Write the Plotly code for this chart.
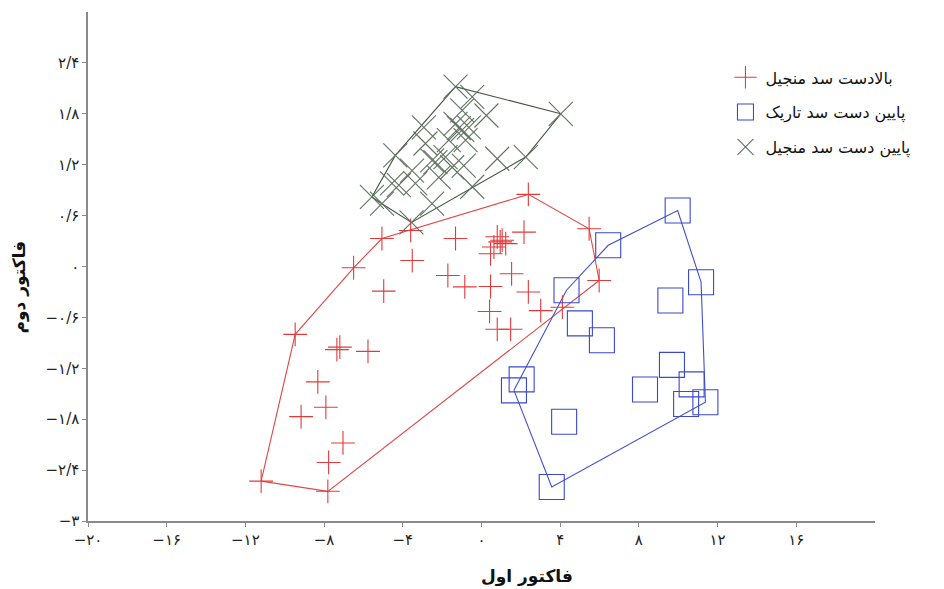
import plotly.graph_objects as go

# ---------------- data ----------------
red_name = "بالادست سد منجیل"
red_x = [2.38, 5.47, 5.98, 4.11, -5.06, -3.6, -3.52, -6.5, -9.47, -11.2, -7.81, -4.97,
         -7.35, -7.2, -5.77, -8.32, -7.91, -9.17, -7.04, -7.77, -1.32, -1.71, -0.85,
         0.8, 1.05, 1.23, 0.63, 0.46, 0.95, 2.16, 1.53, 0.46, 2.38, 3.01, 0.41, 0.80, 1.48]
red_y = [0.85, 0.445, -0.165, -0.48, 0.33, 0.425, 0.07, -0.015, -0.80, -2.53, -2.65, -0.29,
         -0.98, -0.95, -1.0, -1.36, -1.66, -1.77, -2.08, -2.31, 0.33, -0.106, -0.24,
         0.35, 0.31, 0.27, 0.23, 0.15, 0.29, 0.405, -0.086, -0.236, -0.30, -0.52, -0.53, -0.74, -0.74]

blue_name = "پایین دست سد تاریک"
blue_x = [9.97, 6.44, 11.16, 9.6, 4.32, 5.0, 6.12, 2.04, 1.65, 9.68, 8.31, 10.68, 10.4, 11.38, 4.2, 3.57]
blue_y = [0.66, 0.25, -0.185, -0.40, -0.28, -0.67, -0.87, -1.33, -1.46, -1.16, -1.45, -1.39, -1.62, -1.60, -1.83, -2.60]

green_name = "پایین دست سد منجیل"
green_x = [-1.32, 4.03, 2.25, 0.8, 0.25, -0.47, -0.98, -1.32, -0.98, -1.66, -2.93, -4.38, -2.85,
           -2.51, -3.53, -4.55, -5.57, -5.06, -3.36, -2.17, -1.49, -0.47, -2.51, -3.56, -1.83,
           -0.81, -0.64, -0.9, -1.15, -2.34, -4.2]
green_y = [2.12, 1.80, 1.29, 1.27, 1.78, 2.0, 1.84, 1.68, 1.61, 1.49, 1.64, 1.31, 1.45,
           1.25, 1.13, 0.98, 0.82, 0.74, 0.98, 1.05, 1.17, 0.94, 0.74, 0.52, 1.29,
           1.49, 1.64, 1.19, 1.63, 1.23, 0.96]

x_tickvals = [-20, -16, -12, -8, -4, 0, 4, 8, 12, 16]
x_ticktext = ["−۲۰", "−۱۶", "−۱۲", "−۸", "−۴", "۰", "۴", "۸", "۱۲", "۱۶"]
y_tickvals = [2.4, 1.8, 1.2, 0.6, 0, -0.6, -1.2, -1.8, -2.4, -3]
y_ticktext = ["۲/۴", "۱/۸", "۱/۲", "۰/۶", "۰", "−۰/۶", "−۱/۲", "−۱/۸", "−۲/۴", "−۳"]

x_title = "فاکتور اول"
y_title = "فاکتور دوم"


def convex_hull(xs, ys):
    pts = sorted(set(zip(xs, ys)))

    def cross(o, a, b):
        return (a[0] - o[0]) * (b[1] - o[1]) - (a[1] - o[1]) * (b[0] - o[0])

    lower = []
    for p in pts:
        while len(lower) >= 2 and cross(lower[-2], lower[-1], p) <= 0:
            lower.pop()
        lower.append(p)
    upper = []
    for p in reversed(pts):
        while len(upper) >= 2 and cross(upper[-2], upper[-1], p) <= 0:
            upper.pop()
        upper.append(p)
    hull = lower[:-1] + upper[:-1]
    hull.append(hull[0])
    return [p[0] for p in hull], [p[1] for p in hull]


RED = "#e23a3a"
BLUE = "#3a48cc"
GREEN = "#5f735f"

series = [
    (red_name, red_x, red_y, "cross-thin-open", 17, RED, "#e04848"),
    (blue_name, blue_x, blue_y, "square-open", 25, BLUE, "#4050cc"),
    (green_name, green_x, green_y, "x-thin-open", 24, GREEN, "#3f543f"),
]

fig = go.Figure()
for i, (name, xs, ys, sym, size, col, hcol) in enumerate(series):
    hx, hy = convex_hull(xs, ys)
    fig.add_trace(go.Scatter(x=hx, y=hy, mode="lines", line=dict(color=hcol, width=1.1),
                             showlegend=False, hoverinfo="skip"))
for i, (name, xs, ys, sym, size, col, hcol) in enumerate(series):
    fig.add_trace(go.Scatter(x=xs, y=ys, mode="markers", name=name, legendgroup=f"g{i}",
                             marker=dict(symbol=sym, size=size, color=col,
                                         line=dict(color=col, width=1.1))))

axis_common = dict(showgrid=False, zeroline=False, showline=True, linecolor="#8a8a8a",
                   linewidth=1.5, ticks="outside", ticklen=4, tickcolor="#8a8a8a",
                   tickfont=dict(family="DejaVu Sans", size=15, color="#222"))

fig.update_layout(
    width=944, height=589,
    margin=dict(l=88, r=69, t=12, b=68),
    paper_bgcolor="white", plot_bgcolor="white",
    xaxis=dict(range=[-20, 20], tickvals=x_tickvals, ticktext=x_ticktext, **axis_common),
    yaxis=dict(range=[-3, 3], tickvals=y_tickvals, ticktext=y_ticktext, **axis_common),
    legend=dict(x=0.81, y=0.905, xanchor="left", yanchor="top", tracegroupgap=11,
                font=dict(family="DejaVu Sans", size=16, color="#111"),
                bgcolor="rgba(0,0,0,0)"),
    annotations=[
        dict(text=f"<b>{x_title}</b>", xref="paper", yref="paper", x=0.558, y=-0.11,
             xanchor="center", yanchor="middle", showarrow=False,
             font=dict(family="DejaVu Sans", size=17, color="#111")),
        dict(text=f"<b>{y_title}</b>", xref="paper", yref="paper", x=-0.087, y=0.458,
             xanchor="center", yanchor="middle", textangle=-90, showarrow=False,
             font=dict(family="DejaVu Sans", size=17, color="#111")),
    ],
)

fig.write_html("out.html", config={"displayModeBar": False},
               post_script="document.body.style.margin='0';")
